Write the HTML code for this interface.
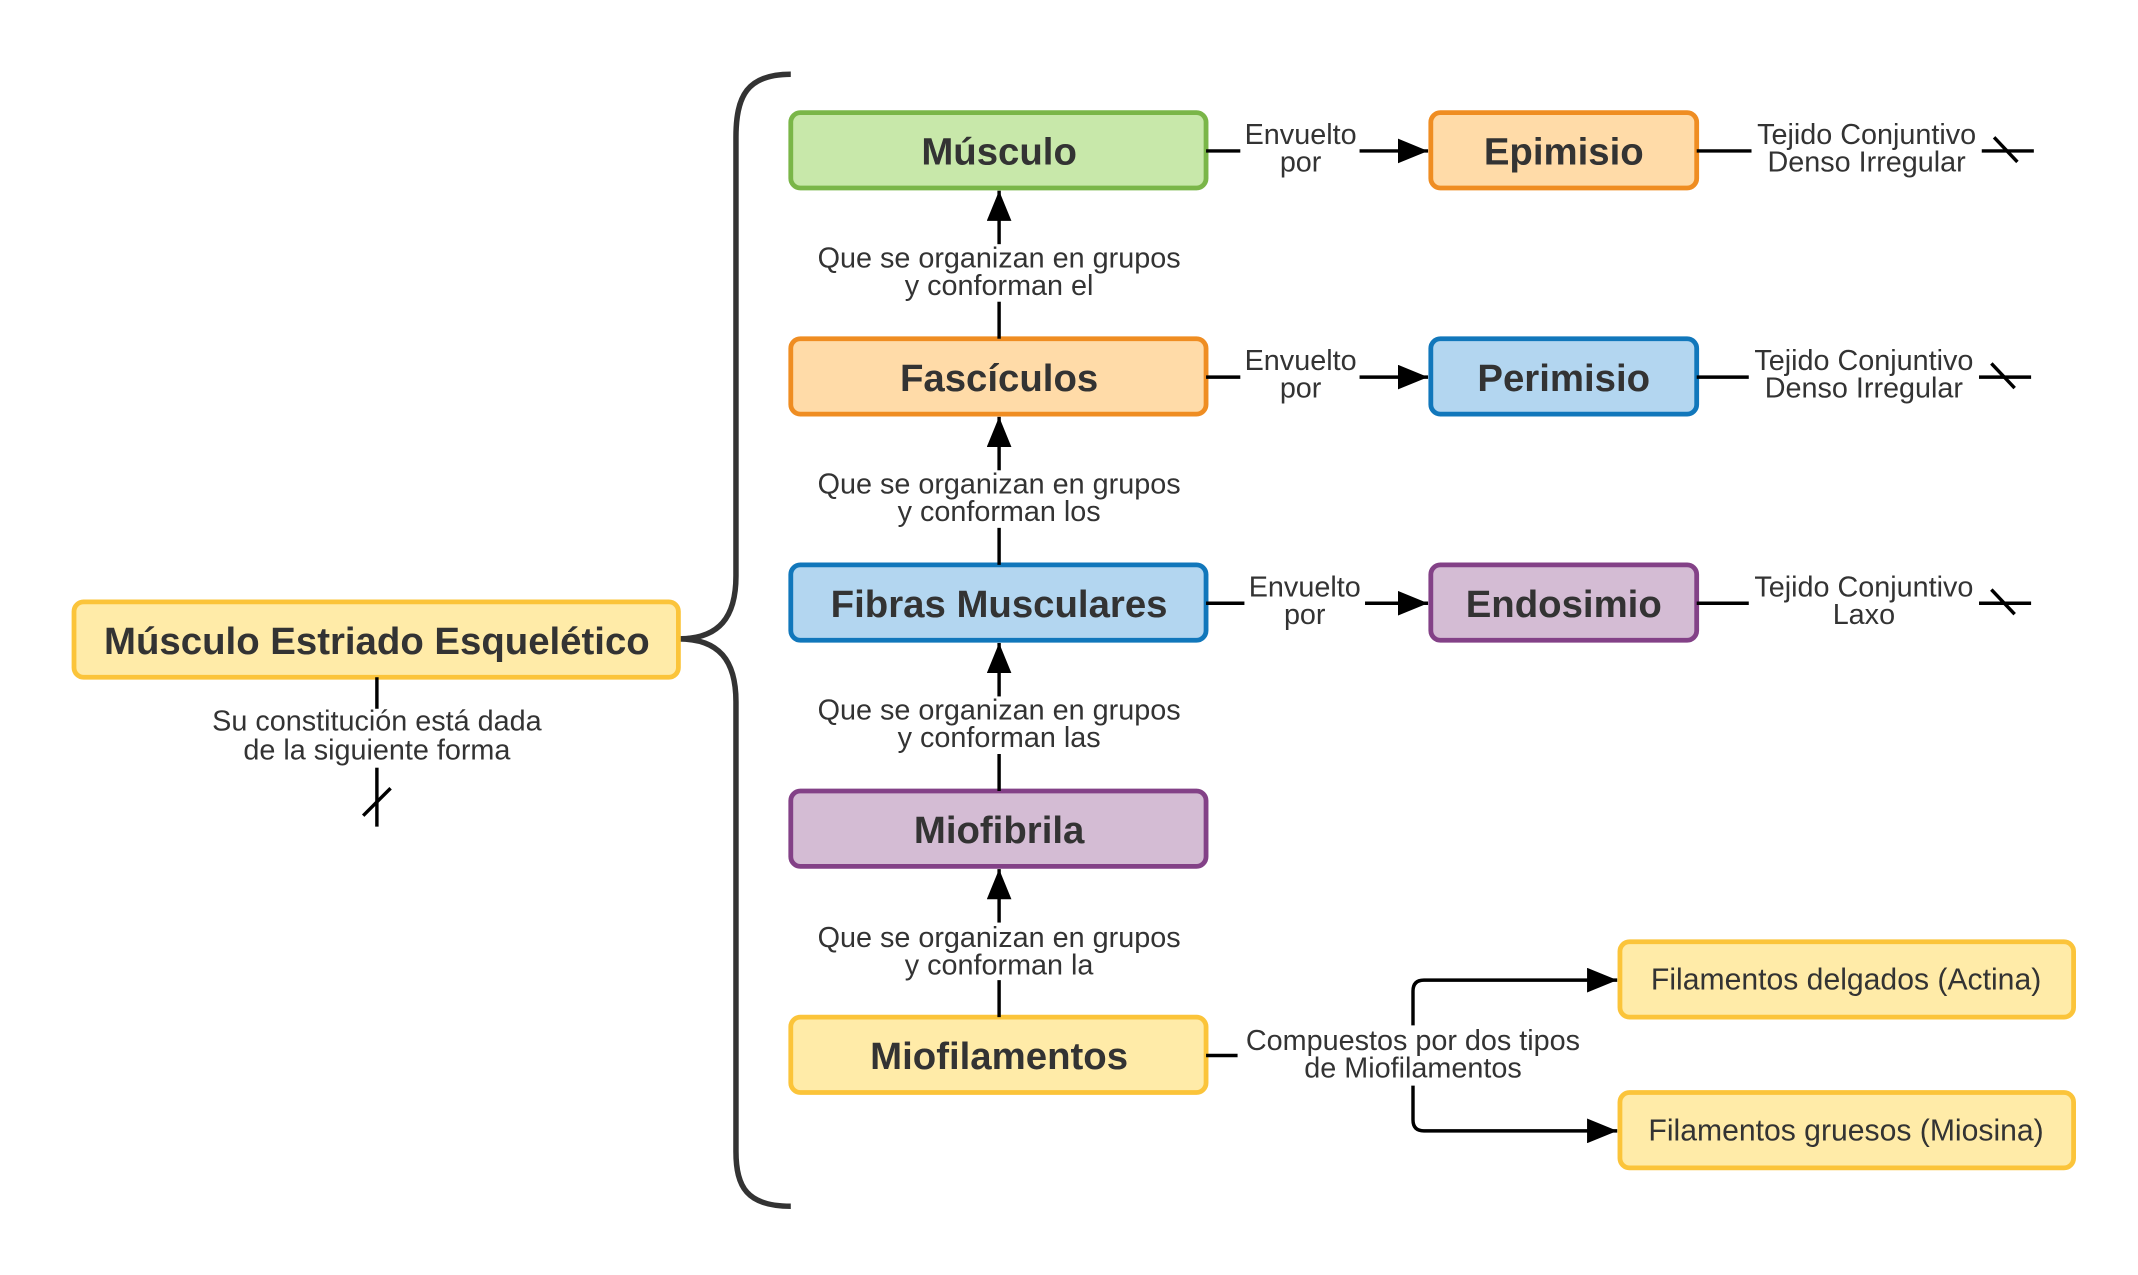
<!DOCTYPE html>
<html><head><meta charset="utf-8"><style>
html,body{margin:0;padding:0;background:#fff}
svg{display:block}
text{font-family:"Liberation Sans",sans-serif;fill:#333}
.b{font-weight:bold;font-size:28px}
.l{font-size:21px}
.f{font-size:22px}
</style></head><body>
<svg width="2138" height="1275" viewBox="0 0 1560 930">
<defs><marker id="ar" viewBox="0 0 10 10" refX="10" refY="5" markerWidth="8" markerHeight="8" markerUnits="userSpaceOnUse" orient="auto"><path d="M0,0L10,5L0,10z" fill="#000"/></marker>
<marker id="ar2" viewBox="0 0 10 10" refX="10" refY="5" markerWidth="22" markerHeight="18" markerUnits="userSpaceOnUse" orient="auto" preserveAspectRatio="none"><path d="M0,0L10,5L0,10z" fill="#000"/></marker></defs>
<path d="M577,54 C545,54 537,70 537,100 L537,420 C537,450 525,466 495,466 C525,466 537,482 537,512 L537,840 C537,866 545,880 577,880" fill="none" stroke="#333" stroke-width="4"/>
<g><rect x="54" y="439" width="441" height="55" rx="7" fill="#FFEBA8" stroke="#FBC43A" stroke-width="3.5"/><text class="b" x="275" y="477" text-anchor="middle">Músculo Estriado Esquelético</text></g>
<g stroke="#000" stroke-width="2.5" fill="none"><line x1="275" y1="494" x2="275" y2="517"/><line x1="275" y1="560" x2="275" y2="603"/><line x1="265" y1="595" x2="285" y2="575"/></g>
<text class="l" x="275" y="533" text-anchor="middle">Su constitución está dada</text>
<text class="l" x="275" y="554" text-anchor="middle">de la siguiente forma</text>

<g><rect x="577" y="82" width="303" height="55" rx="7" fill="#C8E8AA" stroke="#7AB648" stroke-width="3.5"/><text class="b" x="729" y="120" text-anchor="middle">Músculo</text></g>
<g><rect x="577" y="247" width="303" height="55" rx="7" fill="#FFDBA8" stroke="#EF8D22" stroke-width="3.5"/><text class="b" x="729" y="285" text-anchor="middle">Fascículos</text></g>
<g><rect x="577" y="412" width="303" height="55" rx="7" fill="#B3D6F0" stroke="#1177BB" stroke-width="3.5"/><text class="b" x="729" y="450" text-anchor="middle">Fibras Musculares</text></g>
<g><rect x="577" y="577" width="303" height="55" rx="7" fill="#D4BCD4" stroke="#834187" stroke-width="3.5"/><text class="b" x="729" y="615" text-anchor="middle">Miofibrila</text></g>
<g><rect x="577" y="742" width="303" height="55" rx="7" fill="#FFEBA8" stroke="#FBC43A" stroke-width="3.5"/><text class="b" x="729" y="780" text-anchor="middle">Miofilamentos</text></g>

<g stroke="#000" stroke-width="2.5" fill="none">
<line x1="729" y1="247" x2="729" y2="220"/><line x1="729" y1="178" x2="729" y2="139" marker-end="url(#ar2)"/>
<line x1="729" y1="412" x2="729" y2="385"/><line x1="729" y1="343" x2="729" y2="304" marker-end="url(#ar2)"/>
<line x1="729" y1="577" x2="729" y2="550"/><line x1="729" y1="508" x2="729" y2="469" marker-end="url(#ar2)"/>
<line x1="729" y1="742" x2="729" y2="715"/><line x1="729" y1="673" x2="729" y2="634" marker-end="url(#ar2)"/>
</g>
<g>
<text class="l" x="729" y="195" text-anchor="middle">Que se organizan en grupos</text><text class="l" x="729" y="215" text-anchor="middle">y conforman el</text>
<text class="l" x="729" y="360" text-anchor="middle">Que se organizan en grupos</text><text class="l" x="729" y="380" text-anchor="middle">y conforman los</text>
<text class="l" x="729" y="525" text-anchor="middle">Que se organizan en grupos</text><text class="l" x="729" y="545" text-anchor="middle">y conforman las</text>
<text class="l" x="729" y="691" text-anchor="middle">Que se organizan en grupos</text><text class="l" x="729" y="711" text-anchor="middle">y conforman la</text>
</g>

<g><rect x="1044" y="82" width="194" height="55" rx="7" fill="#FFDBA8" stroke="#EF8D22" stroke-width="3.5"/><text class="b" x="1141" y="120" text-anchor="middle">Epimisio</text></g>
<g><rect x="1044" y="247" width="194" height="55" rx="7" fill="#B3D6F0" stroke="#1177BB" stroke-width="3.5"/><text class="b" x="1141" y="285" text-anchor="middle">Perimisio</text></g>
<g><rect x="1044" y="412" width="194" height="55" rx="7" fill="#D4BCD4" stroke="#834187" stroke-width="3.5"/><text class="b" x="1141" y="450" text-anchor="middle">Endosimio</text></g>

<g stroke="#000" stroke-width="2.5" fill="none">
<line x1="880" y1="110" x2="905" y2="110"/><line x1="992" y1="110" x2="1042" y2="110" marker-end="url(#ar2)"/>
<line x1="880" y1="275" x2="905" y2="275"/><line x1="992" y1="275" x2="1042" y2="275" marker-end="url(#ar2)"/>
<line x1="880" y1="440" x2="908" y2="440"/><line x1="996" y1="440" x2="1042" y2="440" marker-end="url(#ar2)"/>
<line x1="1238" y1="110" x2="1278" y2="110"/><line x1="1446" y1="110" x2="1484" y2="110"/><line x1="1455" y1="100" x2="1472" y2="118"/>
<line x1="1238" y1="275" x2="1276" y2="275"/><line x1="1444" y1="275" x2="1482" y2="275"/><line x1="1453" y1="265" x2="1470" y2="283"/>
<line x1="1238" y1="440" x2="1276" y2="440"/><line x1="1444" y1="440" x2="1482" y2="440"/><line x1="1453" y1="430" x2="1470" y2="448"/>
</g>
<g>
<text class="l" x="949" y="105" text-anchor="middle">Envuelto</text><text class="l" x="949" y="125" text-anchor="middle">por</text>
<text class="l" x="949" y="270" text-anchor="middle">Envuelto</text><text class="l" x="949" y="290" text-anchor="middle">por</text>
<text class="l" x="952" y="435" text-anchor="middle">Envuelto</text><text class="l" x="952" y="455" text-anchor="middle">por</text>
<text class="l" x="1362" y="105" text-anchor="middle">Tejido Conjuntivo</text><text class="l" x="1362" y="125" text-anchor="middle">Denso Irregular</text>
<text class="l" x="1360" y="270" text-anchor="middle">Tejido Conjuntivo</text><text class="l" x="1360" y="290" text-anchor="middle">Denso Irregular</text>
<text class="l" x="1360" y="435" text-anchor="middle">Tejido Conjuntivo</text><text class="l" x="1360" y="455" text-anchor="middle">Laxo</text>
</g>

<g stroke="#000" stroke-width="2.5" fill="none">
<line x1="880" y1="770" x2="903" y2="770"/>
<path d="M1031,748 L1031,723 Q1031,715 1039,715 L1180,715" marker-end="url(#ar2)"/>
<path d="M1031,792 L1031,817 Q1031,825 1039,825 L1180,825" marker-end="url(#ar2)"/>
</g>
<text class="l" x="1031" y="766" text-anchor="middle">Compuestos por dos tipos</text>
<text class="l" x="1031" y="786" text-anchor="middle">de Miofilamentos</text>
<g><rect x="1182" y="687" width="331" height="55" rx="7" fill="#FFEBA8" stroke="#FBC43A" stroke-width="3.5"/><text class="f" x="1347" y="722" text-anchor="middle">Filamentos delgados (Actina)</text></g>
<g><rect x="1182" y="797" width="331" height="55" rx="7" fill="#FFEBA8" stroke="#FBC43A" stroke-width="3.5"/><text class="f" x="1347" y="832" text-anchor="middle">Filamentos gruesos (Miosina)</text></g>
</svg>
</body></html>
